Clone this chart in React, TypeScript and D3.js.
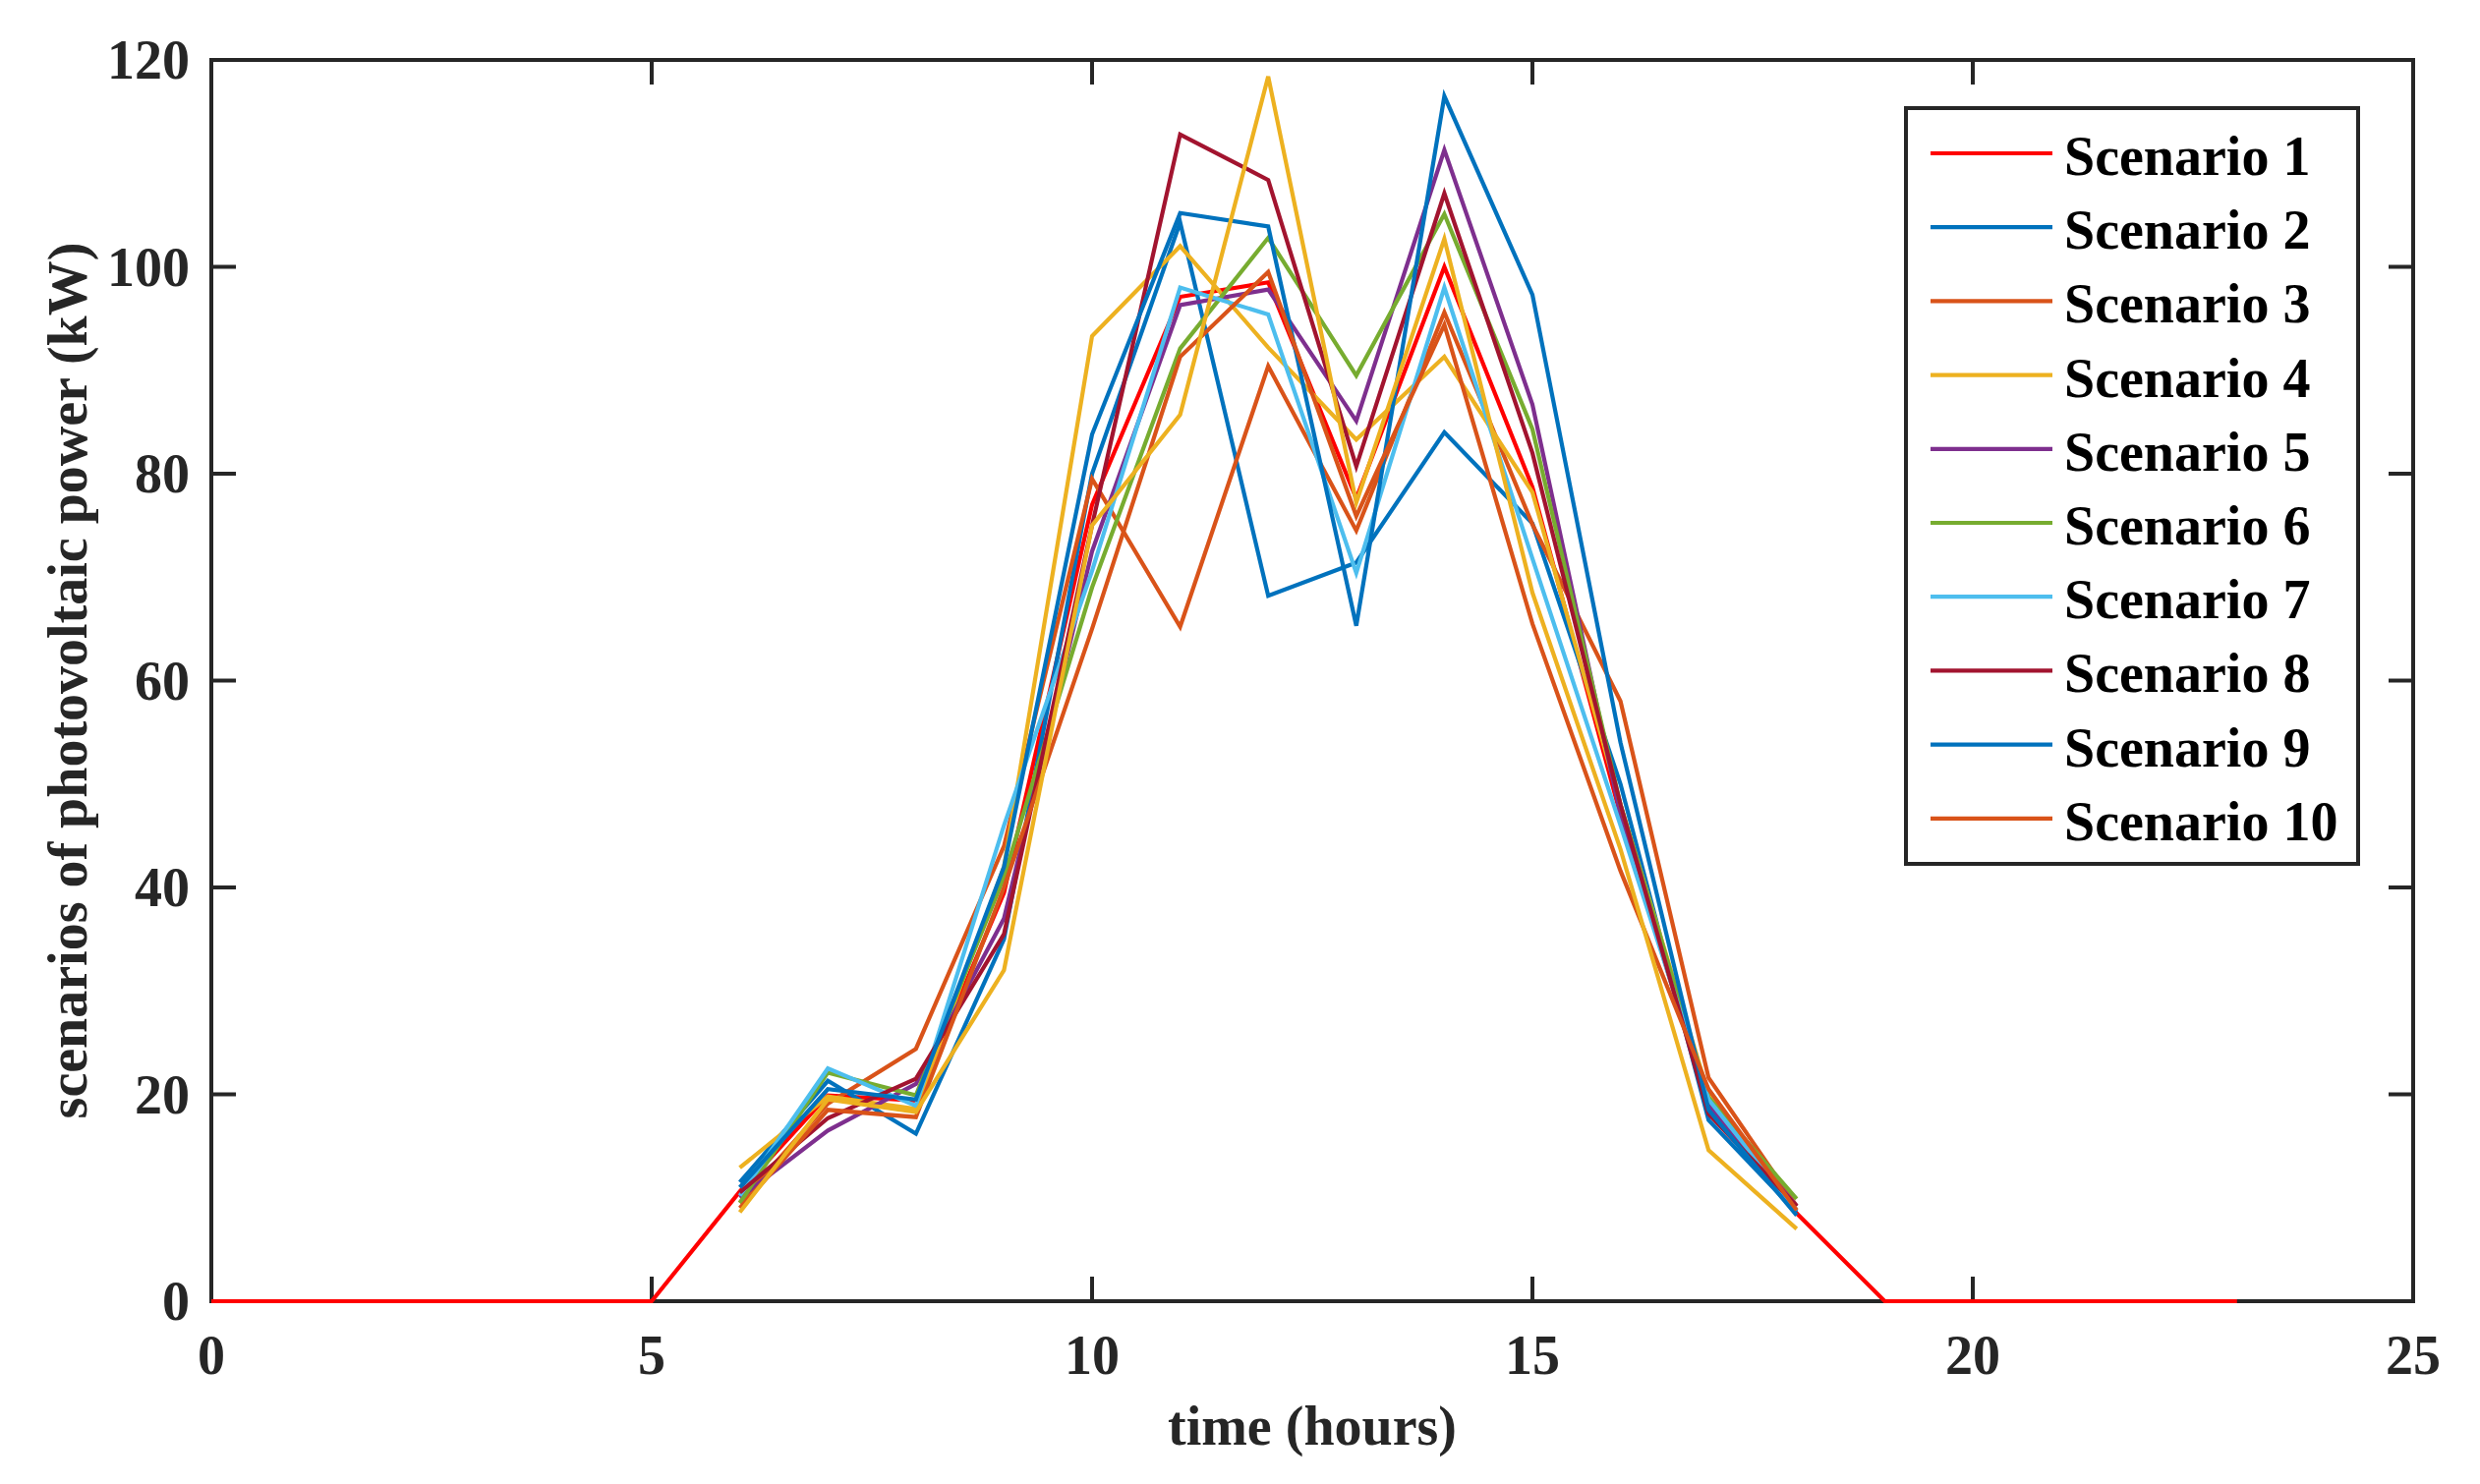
import { useEffect, useRef } from 'react';
import * as d3 from 'd3';

// hours of the day used by the sampled scenarios
const hours = [6, 7, 8, 9, 10, 11, 12, 13, 14, 15, 16, 17, 18];
// scenario 1 is plotted over the whole day
const dayHours = [0, 1, 2, 3, 4, 5, 6, 7, 8, 9, 10, 11, 12, 13, 14, 15, 16, 17, 18, 19, 20, 21, 22, 23];
const scenario1 = [0, 0, 0, 0, 0, 0, 10.6, 19.9, 19.4, 39.5, 77, 97.1, 98.5, 77.6, 100, 78.7, 47, 18.8, 8.5, 0, 0, 0, 0, 0];

const scenario2 = [11.5, 21.3, 16.2, 35, 80, 104.3, 68.2, 71.4, 84.0, 75.2, 50, 17.5, 8.6];
const scenario3 = [9.5, 19.1, 24.4, 44, 79.5, 65.2, 90.4, 74.5, 95.6, 75.1, 58, 21.6, 9.2];
const scenario4 = [12.9, 19.8, 18.6, 42, 93.3, 102, 92.2, 83.3, 91.3, 78.2, 48, 20, 8.8];
const scenario5 = [10, 16.5, 21.0, 37, 72.5, 96.3, 97.8, 85.1, 111.3, 86.7, 47, 19, 9.2];
const scenario6 = [9.5, 22.1, 19.9, 41, 69, 92.1, 102.8, 89.5, 105.1, 84.3, 48, 19.7, 9.9];
const scenario7 = [10.2, 22.5, 18.9, 46, 70.6, 98, 95.4, 70.4, 98, 71.8, 46, 19.5, 8.8];
const scenario8 = [10.5, 17.7, 21.5, 35.5, 75, 112.8, 108.4, 80.7, 107.1, 82, 48, 18.1, 9.2];
const scenario9 = [11, 20.5, 19.5, 42, 83.8, 105.2, 103.9, 65.3, 116.5, 97.3, 54, 18.5, 8.3];
const scenario10 = [9, 18.5, 17.8, 40, 65, 91.3, 99.5, 75.9, 94.4, 65.5, 41.6, 20.5, 8.8];
// an extra trace drawn but not listed in the legend
const scenario11 = [8.6, 19.5, 18.3, 32, 75, 85.7, 118.4, 77.2, 102.7, 68.5, 43.7, 14.6, 7.0];

const legendLabels = ['Scenario 1', 'Scenario 2', 'Scenario 3', 'Scenario 4', 'Scenario 5',
  'Scenario 6', 'Scenario 7', 'Scenario 8', 'Scenario 9', 'Scenario 10'];
const colors = ['#FF0000', '#0072BD', '#D95319', '#EDB120', '#7E2F8E', '#77AC30',
  '#4DBEEE', '#A2142F', '#0072BD', '#D95319', '#EDB120'];

const xTicks = [0, 5, 10, 15, 20, 25];
const yTicks = [0, 20, 40, 60, 80, 100, 120];

const W = 2523;
const H = 1510;
const FONT = '"Liberation Serif", "Times New Roman", serif';

export default function App() {
  const svgRef = useRef<SVGSVGElement>(null);

  useEffect(() => {
    if (!svgRef.current) return;
    const svg = d3.select(svgRef.current);
    svg.selectAll('*').remove();

    const left = 215, right = 2455, top = 61, bottom = 1324;
    const x = d3.scaleLinear().domain([0, 25]).range([left, right]);
    const y = d3.scaleLinear().domain([0, 120]).range([bottom, top]);
    const axisColor = '#262626';
    const tickLen = 25;
    const lineW = 4.2;

    svg.append('rect').attr('width', W).attr('height', H).attr('fill', '#fff');

    // box + ticks
    const ax = svg.append('g').attr('stroke', axisColor).attr('stroke-width', 4);
    ax.append('rect')
      .attr('x', left).attr('y', top)
      .attr('width', right - left).attr('height', bottom - top)
      .attr('fill', 'none');

    xTicks.forEach(t => {
      ax.append('line').attr('x1', x(t)).attr('x2', x(t)).attr('y1', bottom).attr('y2', bottom - tickLen);
      ax.append('line').attr('x1', x(t)).attr('x2', x(t)).attr('y1', top).attr('y2', top + tickLen);
    });
    yTicks.forEach(t => {
      ax.append('line').attr('x1', left).attr('x2', left + tickLen).attr('y1', y(t)).attr('y2', y(t));
      ax.append('line').attr('x1', right).attr('x2', right - tickLen).attr('y1', y(t)).attr('y2', y(t));
    });

    // series (drawn over the box, like the zero run of scenario 1)
    const series: { xs: number[]; ys: number[] }[] = [
      { xs: dayHours, ys: scenario1 },
      ...[scenario2, scenario3, scenario4, scenario5, scenario6, scenario7,
        scenario8, scenario9, scenario10, scenario11].map(ys => ({ xs: hours, ys })),
    ];

    const line = d3.line<[number, number]>()
      .x(d => x(d[0]))
      .y(d => y(d[1]));

    const plot = svg.append('g');
    series.forEach((s, i) => {
      const pts = s.xs.map((h, j) => [h, s.ys[j]] as [number, number]);
      plot.append('path')
        .attr('d', line(pts))
        .attr('fill', 'none')
        .attr('stroke', colors[i])
        .attr('stroke-width', lineW)
        .attr('stroke-linejoin', 'miter');
    });

    const labels = svg.append('g')
      .attr('font-family', FONT)
      .attr('font-weight', 'bold')
      .attr('font-size', 56)
      .attr('fill', axisColor);

    xTicks.forEach(t => {
      labels.append('text')
        .attr('x', x(t)).attr('y', bottom + 74)
        .attr('text-anchor', 'middle')
        .text(String(t));
    });
    yTicks.forEach(t => {
      labels.append('text')
        .attr('x', left - 22).attr('y', y(t) + 19)
        .attr('text-anchor', 'end')
        .text(String(t));
    });

    labels.append('text')
      .attr('x', (left + right) / 2).attr('y', 1470)
      .attr('text-anchor', 'middle')
      .text('time (hours)');

    labels.append('text')
      .attr('transform', `translate(88, ${(top + bottom) / 2}) rotate(-90)`)
      .attr('text-anchor', 'middle')
      .text('scenarios of photovoltaic power (kW)');

    // legend
    const lg = svg.append('g');
    lg.append('rect')
      .attr('x', 1939).attr('y', 110)
      .attr('width', 460).attr('height', 769)
      .attr('fill', '#fff')
      .attr('stroke', axisColor)
      .attr('stroke-width', 4);

    legendLabels.forEach((lab, i) => {
      const ly = 156 + i * 75.2;
      lg.append('line')
        .attr('x1', 1964).attr('x2', 2088)
        .attr('y1', ly).attr('y2', ly)
        .attr('stroke', colors[i])
        .attr('stroke-width', lineW);
      lg.append('text')
        .attr('x', 2100).attr('y', ly + 22)
        .attr('font-family', FONT)
        .attr('font-weight', 'bold')
        .attr('font-size', 56)
        .attr('fill', '#000')
        .text(lab);
    });
  }, []);

  return (
    <svg
      ref={svgRef}
      width={W}
      height={H}
      style={{ position: 'absolute', left: 0, top: 0 }}
    />
  );
}
